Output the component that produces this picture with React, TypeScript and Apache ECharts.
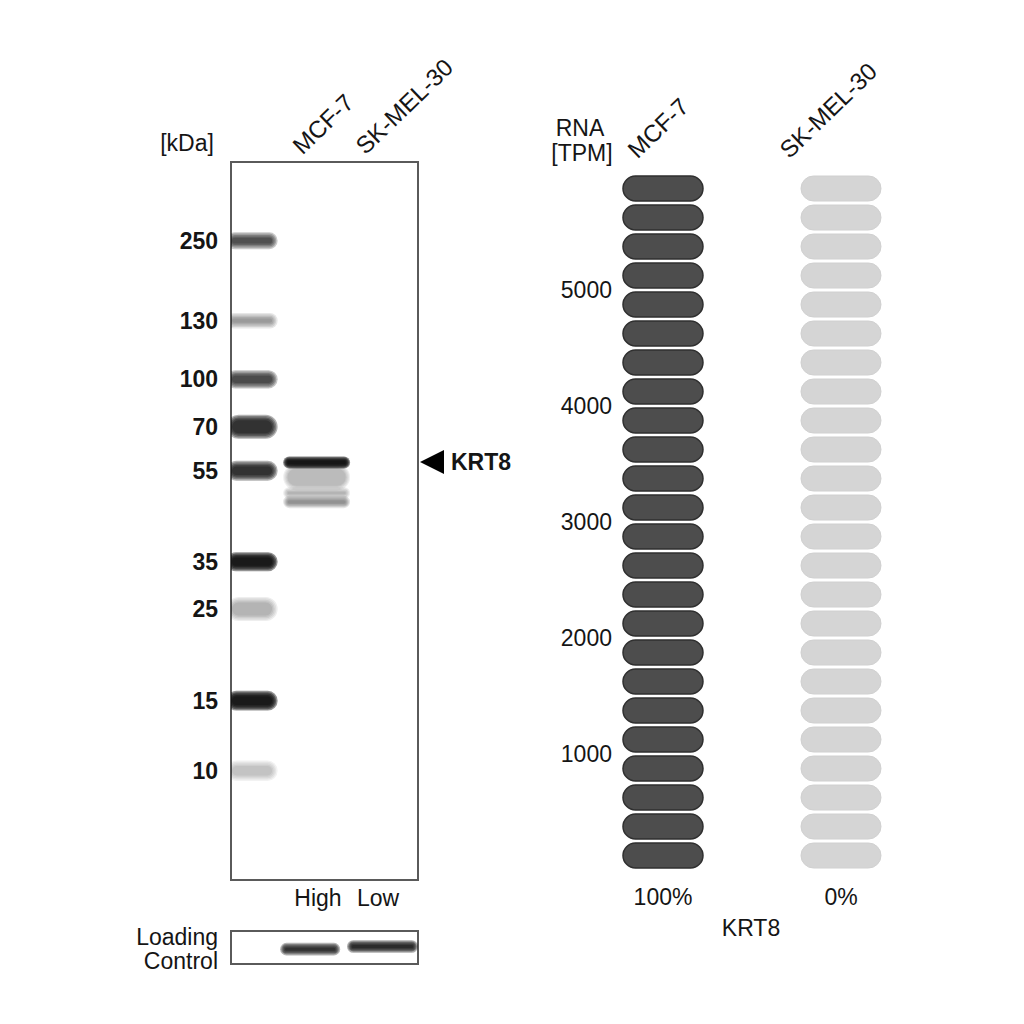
import React, { useEffect, useRef } from 'react';
import * as echarts from 'echarts';

// Western blot ladder (kDa markers): label, migration distance (% of gel), band intensity, band thickness (% of gel)
const ladderLabels = ['250', '130', '100', '70', '55', '35', '25', '15', '10'];
const ladderPos = [10.96, 22.1, 30.27, 36.87, 43.0, 55.67, 62.26, 75.03, 84.78];
const ladderIntensity = [0.72, 0.42, 0.75, 0.85, 0.85, 0.95, 0.3, 0.95, 0.25];
const ladderThickness = [0.8, 0.6, 1.0, 1.8, 1.2, 1.1, 1.8, 1.2, 1.3];

// Sample lanes
const lanes = ['MCF-7', 'SK-MEL-30'];
const expressionLevel = ['High', 'Low'];
const target = 'KRT8';

// MCF-7 sample bands (lane index 1)
const sampleLane = [1, 1, 1, 1];
const samplePos = [41.85, 43.9, 46.1, 47.35];
const sampleIntensity = [0.97, 0.28, 0.3, 0.45];
const sampleThickness = [0.45, 2.4, 0.35, 0.5];

// Loading control bands (lane position, vertical position, intensity)
const loadingLane = [0.9, 2.02];
const loadingPos = [0.55, 0.47];
const loadingIntensity = [0.85, 0.88];

// RNA expression
const rnaCells = ['MCF-7', 'SK-MEL-30'];
const rnaTPM = [5960, 0];
const rnaMax = 6000;
const rnaStep = 250;
const rnaTicks = [1000, 2000, 3000, 4000, 5000];

const FONT = '"Liberation Sans", Arial, Helvetica, sans-serif';
const TXT = '#151515';
const FS = 23;

function blurRect(cx: number, cy: number, w: number, h: number, inten: number, spread: number) {
  const N = 5;
  const i = Math.min(inten, 0.97);
  const a = 1 - Math.pow(1 - i, 1 / N);
  const children: any[] = [];
  for (let j = 0; j < N; j++) {
    const e = (N - 1 - j) * spread;
    const ww = w + e * 2;
    const hh = h + e * 2;
    children.push({
      type: 'rect',
      shape: { x: cx - ww / 2, y: cy - hh / 2, width: ww, height: hh, r: hh / 2 },
      style: { fill: `rgba(15,15,15,${a})` },
    });
  }
  return { type: 'group', children };
}

function bandRender(params: any, api: any) {
  const lane = api.value(0);
  const pos = api.value(1);
  const inten = api.value(2);
  const thick = api.value(3);
  const c = api.coord([lane, pos]);
  const laneW = api.size([1, 0])[0];
  const w = lane === 0 ? laneW * 0.62 : laneW * 0.9;
  const h = Math.max(2, api.size([0, thick])[1]);
  return blurRect(c[0], c[1], w, h, inten, lane === 0 ? 1.4 : 1.1);
}

function loadRender(params: any, api: any) {
  const lane = api.value(0);
  const pos = api.value(1);
  const inten = api.value(2);
  const c = api.coord([lane, pos]);
  const laneW = api.size([1, 0])[0];
  const w = laneW * (params.dataIndex === 0 ? 0.78 : 0.95);
  return blurRect(c[0], c[1], w, 3, inten, 1.2);
}

function ladderLabelRender(params: any, api: any) {
  const pos = api.value(1);
  const idx = params.dataIndex;
  const c = api.coord([0, pos]);
  return {
    type: 'text',
    x: params.coordSys.x - 13,
    y: c[1],
    style: {
      text: ladderLabels[idx],
      fill: TXT,
      font: `bold ${FS}px ${FONT}`,
      align: 'right',
      verticalAlign: 'middle',
    },
  };
}

function pillRender(params: any, api: any) {
  const cell = api.value(0);
  const val = api.value(1);
  const n = Math.round(rnaMax / rnaStep);
  const children: any[] = [];
  const hStep = api.size([0, rnaStep])[1];
  const w = 80;
  const h = hStep - 4;
  for (let k = 0; k < n; k++) {
    const c = api.coord([cell, k * rnaStep + rnaStep / 2]);
    const filled = k * rnaStep < val;
    children.push({
      type: 'rect',
      shape: { x: c[0] - w / 2, y: c[1] - h / 2, width: w, height: h, r: h / 2 },
      style: filled
        ? { fill: '#4d4d4d', stroke: '#2f2f2f', lineWidth: 1.5 }
        : { fill: '#d5d5d5', stroke: '#d0d0d0', lineWidth: 1 },
    });
  }
  return { type: 'group', children };
}

export default function App() {
  const ref = useRef<HTMLDivElement>(null);
  useEffect(() => {
    if (!ref.current) return;
    const chart = echarts.init(ref.current, undefined, { renderer: 'svg' });

    const ladderData = ladderLabels.map((_, i) => [0, ladderPos[i], ladderIntensity[i], ladderThickness[i]]);
    const sampleData = samplePos.map((p, i) => [sampleLane[i], p, sampleIntensity[i], sampleThickness[i]]);
    const loadData = loadingPos.map((p, i) => [loadingLane[i], p, loadingIntensity[i]]);
    const rnaData = rnaCells.map((_, i) => [i, rnaTPM[i]]);
    const maxTPM = Math.max(...rnaTPM);

    const graphics: any[] = [];
    const t = (text: string, x: number, y: number, opts: any = {}) => ({
      type: 'text',
      x,
      y,
      rotation: opts.rotation || 0,
      style: {
        text,
        fill: TXT,
        font: `${opts.bold ? 'bold ' : ''}${opts.size || FS}px ${FONT}`,
        align: opts.align || 'center',
        verticalAlign: opts.va || 'middle',
      },
    });
    const rot = (44 * Math.PI) / 180;
    graphics.push(t('[kDa]', 187, 143));
    const blotLabelX = [305, 368];
    lanes.forEach((l, i) => graphics.push(t(l, blotLabelX[i], 158, { rotation: rot, align: 'left', va: 'bottom', size: 24 })));
    const exprX = [318, 378];
    expressionLevel.forEach((e, i) => graphics.push(t(e, exprX[i], 898)));
    graphics.push(t('Loading', 218, 937, { align: 'right' }));
    graphics.push(t('Control', 218, 961, { align: 'right' }));
    graphics.push({
      type: 'polygon',
      shape: { points: [[420, 462], [444, 450], [444, 474]] },
      style: { fill: '#000' },
    });
    graphics.push(t(target, 451, 462, { align: 'left', bold: true }));
    graphics.push(t('RNA', 580, 128));
    graphics.push(t('[TPM]', 582, 153));
    const rnaLabelX = [640, 792];
    rnaCells.forEach((l, i) => graphics.push(t(l, rnaLabelX[i], 162, { rotation: rot, align: 'left', va: 'bottom', size: 24 })));
    const pctX = [663, 841];
    rnaTPM.forEach((v, i) => graphics.push(t(`${Math.round((v / maxTPM) * 100)}%`, pctX[i], 897)));
    graphics.push(t(target, 751, 928));

    chart.setOption({
      animation: false,
      backgroundColor: '#ffffff',
      textStyle: { fontFamily: FONT },
      grid: [
        { left: 231, top: 162, width: 187, height: 718, show: true, borderColor: '#5a5a5a', borderWidth: 2, backgroundColor: 'transparent' },
        { left: 231, top: 931, width: 187, height: 33, show: true, borderColor: '#5a5a5a', borderWidth: 2, backgroundColor: 'transparent' },
        { left: 616, top: 174, width: 314, height: 696 },
      ],
      xAxis: [
        { gridIndex: 0, type: 'value', min: -0.326, max: 2.57, show: false },
        { gridIndex: 1, type: 'value', min: -0.326, max: 2.57, show: false },
        { gridIndex: 2, type: 'value', min: -0.264, max: 1.5, show: false },
      ],
      yAxis: [
        { gridIndex: 0, type: 'value', min: 0, max: 100, inverse: true, show: false },
        { gridIndex: 1, type: 'value', min: 0, max: 1, inverse: true, show: false },
        {
          gridIndex: 2,
          type: 'value',
          min: 0,
          max: rnaMax,
          interval: 1000,
          axisLine: { show: false },
          axisTick: { show: false },
          splitLine: { show: false },
          axisLabel: {
            margin: 4,
            fontSize: FS,
            color: TXT,
            fontFamily: FONT,
            formatter: (v: number) => (rnaTicks.includes(v) ? String(v) : ''),
          },
        },
      ],
      series: [
        { type: 'custom', xAxisIndex: 0, yAxisIndex: 0, data: ladderData, renderItem: bandRender, silent: true, clip: true },
        { type: 'custom', xAxisIndex: 0, yAxisIndex: 0, data: sampleData, renderItem: bandRender, silent: true, clip: true },
        { type: 'custom', xAxisIndex: 0, yAxisIndex: 0, data: ladderData, renderItem: ladderLabelRender, silent: true },
        { type: 'custom', xAxisIndex: 1, yAxisIndex: 1, data: loadData, renderItem: loadRender, silent: true, clip: true },
        { type: 'custom', xAxisIndex: 2, yAxisIndex: 2, data: rnaData, renderItem: pillRender, silent: true },
      ],
      graphic: graphics,
    });
    return () => chart.dispose();
  }, []);
  return <div ref={ref} style={{ position: 'fixed', left: 0, top: 0, width: 1024, height: 1024 }} />;
}
